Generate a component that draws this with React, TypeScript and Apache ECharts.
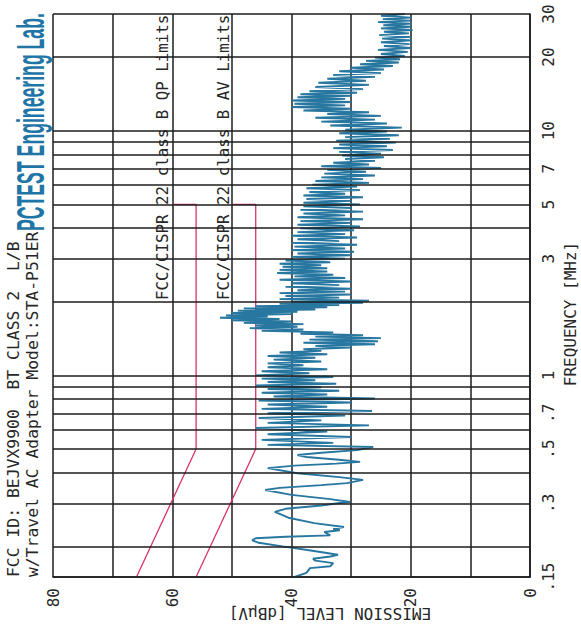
import React, { useEffect, useRef } from 'react';
import * as echarts from 'echarts';

// ---- axis definitions ----
const levelLabelValues = [0, 20, 40, 60, 80];
const freqGridLines = [0.15, 0.2, 0.3, 0.4, 0.5, 0.6, 0.7, 0.8, 0.9, 1, 2, 3, 4, 5, 6, 7, 8, 9, 10, 20, 30];
const freqTickValues = [0.15, 0.3, 0.5, 0.7, 1, 3, 5, 7, 10, 20, 30];
const freqTickLabels = ['.15', '.3', '.5', '.7', '1', '3', '5', '7', '10', '20', '30'];

// ---- limit lines (MHz, dBuV) ----
const qpLimitFreq = [0.15, 0.5, 5, 5];
const qpLimitLevel = [66, 56, 56, 60];
const avLimitFreq = [0.15, 0.5, 5, 5];
const avLimitLevel = [56, 46, 46, 50];

// ---- measured emission trace (MHz) ----
const traceFreq = [
  0.150, 0.156, 0.163, 0.166, 0.171, 0.175, 0.178, 0.182, 0.185, 0.192,
  0.200, 0.207, 0.212, 0.216, 0.219, 0.222, 0.229, 0.233, 0.236, 0.240,
  0.249, 0.262, 0.277, 0.285, 0.294, 0.301, 0.304, 0.312, 0.325, 0.340,
  0.347, 0.356, 0.363, 0.374, 0.384, 0.398, 0.418, 0.428, 0.436, 0.443,
  0.452, 0.464, 0.473, 0.483, 0.495, 0.510,
  0.52, 0.53, 0.545, 0.56, 0.575, 0.59, 0.61, 0.625, 0.64, 0.655,
  0.67, 0.685, 0.70, 0.715, 0.73, 0.745, 0.76, 0.775, 0.79, 0.805,
  0.82, 0.835, 0.85, 0.865, 0.88, 0.895, 0.91, 0.925, 0.94, 0.955,
  0.97, 0.985,
  1.00, 1.02, 1.04, 1.06, 1.08, 1.10, 1.12, 1.14, 1.16, 1.18,
  1.20, 1.22, 1.24, 1.26, 1.28, 1.30, 1.32, 1.34, 1.36, 1.38,
  1.40, 1.42, 1.44, 1.46, 1.48, 1.50, 1.52, 1.54, 1.56, 1.58,
  1.60, 1.62, 1.64, 1.66, 1.68, 1.70, 1.72, 1.74, 1.76, 1.78,
  1.80, 1.82, 1.84, 1.86, 1.88, 1.90, 1.92, 1.94, 1.96, 1.98,
  2.00, 2.02, 2.05, 2.08, 2.11, 2.14, 2.17, 2.20, 2.23, 2.26,
  2.30, 2.34, 2.38, 2.42, 2.46, 2.50, 2.54, 2.58, 2.62, 2.66,
  2.70, 2.74, 2.78, 2.82, 2.86, 2.90, 2.95,
  3.00, 3.05, 3.10, 3.15, 3.20, 3.25, 3.30, 3.36, 3.42, 3.48,
  3.54, 3.60, 3.66, 3.72, 3.78, 3.85, 3.92, 3.99,
  4.06, 4.13, 4.20, 4.27, 4.35, 4.43, 4.51, 4.59, 4.67, 4.75, 4.83, 4.91,
  5.00, 5.08, 5.17, 5.26, 5.35, 5.44, 5.53, 5.62, 5.72, 5.82, 5.92,
  6.02, 6.12, 6.23, 6.34, 6.45, 6.56, 6.68, 6.80, 6.92,
  7.04, 7.16, 7.28, 7.40, 7.53, 7.66, 7.79, 7.92,
  8.06, 8.20, 8.34, 8.49, 8.64, 8.79, 8.94,
  9.10, 9.26, 9.42, 9.59, 9.76, 9.93,
  10.1, 10.3, 10.5, 10.7, 10.9, 11.1, 11.3, 11.5, 11.7, 11.9,
  12.1, 12.3, 12.5, 12.7, 12.9, 13.1, 13.3, 13.5, 13.7, 13.9,
  14.1, 14.3, 14.5, 14.8, 15.1, 15.4, 15.7, 16.0, 16.3, 16.6,
  16.9, 17.2, 17.5, 17.8, 18.1, 18.4, 18.7, 19.0, 19.3, 19.6,
  19.9,
  20.2, 20.6, 21.0, 21.4, 21.8, 22.2, 22.6, 23.0, 23.4, 23.8,
  24.2, 24.6, 25.0, 25.4, 25.8, 26.2, 26.6, 27.0, 27.4, 27.8,
  28.2, 28.6, 29.0, 29.5, 30.0,
];

// ---- measured emission trace (dBuV) ----
const traceLevel = [
  39.5, 37.5, 36.9, 33.5, 33.0, 36.0, 36.4, 33.5, 32.2, 36.5,
  41.5, 45.5, 46.6, 46.0, 41.0, 33.5, 34.5, 31.9, 33.0, 31.2,
  36.2, 40.5, 42.8, 41.0, 35.0, 31.9, 30.2, 33.5, 40.0, 44.4,
  42.0, 35.0, 30.7, 28.0, 32.0, 39.0, 44.0, 39.5, 32.5, 28.5,
  32.0, 37.5, 39.0, 35.0, 29.0, 26.3,
  44, 33, 45, 30, 44, 34, 46, 27, 44, 35,
  45.5, 31, 44, 26.5, 45, 34, 44, 30, 45.5, 26,
  43, 34, 45, 32, 44, 35, 46, 32.5, 44, 36,
  45, 33,
  46, 37, 45, 34, 44, 38, 44, 35, 43, 36,
  44, 34, 42, 35, 38, 30, 36, 26, 38, 25.5,
  37, 25, 36, 28, 38.5, 33, 45, 38, 47, 39,
  46, 38, 48, 40, 50, 42, 52, 44, 51, 40,
  50, 39, 49, 36, 48, 34, 46, 32, 42, 28,
  40, 27, 42, 32, 41, 30, 42, 31, 39, 30,
  41, 32, 40, 30, 42, 31, 39.5, 33, 42.4, 34,
  42, 34, 41.5, 35, 42, 33.5, 41,
  31, 40, 30, 39, 29.5, 40, 31, 39.5, 29, 40,
  32, 39, 29, 40, 31, 39, 29.5, 38.5,
  28.5, 39, 30, 38.5, 28, 39, 31, 38, 28, 38.5, 30, 38,
  28.5, 38, 30, 37.5, 28, 38, 31, 37, 28.5, 37.5, 29,
  36.5, 27, 36, 28, 35, 26, 34.5, 27.5, 34,
  25, 35, 27, 33, 26, 31, 24.5, 31.5,
  25, 32, 23, 33, 24, 32, 22.5,
  32.5, 23.5, 31, 22, 32, 24,
  31, 21.5, 33.5, 24, 35, 26, 36, 25, 34, 27,
  38, 30, 40, 31, 39.5, 30, 40, 31, 39, 30,
  38.5, 29, 37, 28, 36, 27, 35.5, 27.5, 34, 26,
  33, 25, 32, 24.5, 30, 23, 28.5, 22, 27.5, 21.8,
  26,
  21, 25, 20.5, 25.5, 20, 24.5, 20.2, 25, 19.8, 24.8,
  20, 25.3, 20.3, 24.5, 19.7, 25, 20, 24.6, 19.8, 25.5,
  20.1, 24.7, 19.9, 25, 21,
];

const headerLine1 = 'FCC ID: BEJVX9900  BT CLASS 2  L/B';
const headerLine2 = 'w/Travel AC Adapter Model:STA-P51ER';
const labName = 'PCTEST Engineering Lab.';
const qpLabel = 'FCC/CISPR 22 class B QP Limits';
const avLabel = 'FCC/CISPR 22 class B AV Limits';
const freqTitle = 'FREQUENCY [MHz]';
const levelTitle = 'EMISSION LEVEL [dB\u03bcV]';

const MONO = '"DejaVu Sans Mono", "Liberation Mono", monospace';
const INK = '#262626';
const GRID = '#1c1c1c';
const RED = '#d8336c';
const TEAL = '#2877a0';

function pairs(levels: number[], freqs: number[]) {
  return freqs.map((f, i) => [levels[i], f]);
}

function rotText(text: string, x: number, y: number, rot: number, size: number, align: string, extra: any = {}) {
  return {
    type: 'text',
    x,
    y,
    rotation: rot,
    silent: true,
    ...extra.el,
    style: {
      text,
      fontFamily: MONO,
      fontSize: size,
      fill: INK,
      align,
      textAlign: align,
      verticalAlign: 'middle',
      textVerticalAlign: 'middle',
      ...extra.style,
    },
  };
}

export default function App() {
  const ref = useRef<HTMLDivElement>(null);

  useEffect(() => {
    if (!ref.current) return;
    const chart = echarts.init(ref.current, null, { renderer: 'svg' });

    chart.setOption({
      animation: false,
      backgroundColor: '#ffffff',
      grid: { left: 53, right: 51, top: 14, bottom: 52, containLabel: false },
      xAxis: {
        type: 'value',
        min: 0,
        max: 80,
        interval: 10,
        inverse: true,
        axisLine: { show: true, onZero: false, lineStyle: { color: GRID, width: 1.6 } },
        axisTick: { show: false },
        splitLine: { show: true, lineStyle: { color: GRID, width: 1.5 } },
        axisLabel: {
          rotate: 90,
          margin: 11,
          fontFamily: MONO,
          fontSize: 16,
          color: INK,
          formatter: (v: number) => (levelLabelValues.includes(v) ? String(v) : ''),
        },
      },
      yAxis: {
        type: 'log',
        logBase: 10,
        min: 0.15,
        max: 30,
        position: 'right',
        axisLine: { show: true, onZero: false, lineStyle: { color: GRID, width: 1.6 } },
        axisTick: { show: false },
        axisLabel: { show: false },
        splitLine: { show: false },
      },
      series: [
        {
          type: 'line',
          name: 'QP',
          data: pairs(qpLimitLevel, qpLimitFreq),
          symbol: 'none',
          lineStyle: { color: RED, width: 1.3 },
          z: 3,
          markLine: {
            silent: true,
            symbol: 'none',
            label: { show: false },
            lineStyle: { color: GRID, width: 1.5, type: 'solid' },
            data: freqGridLines.map((v) => ({ yAxis: v })),
          },
        },
        {
          type: 'line',
          name: 'AV',
          data: pairs(avLimitLevel, avLimitFreq),
          symbol: 'none',
          lineStyle: { color: RED, width: 1.3 },
          z: 3,
        },
        {
          type: 'line',
          name: 'Emission',
          data: pairs(traceLevel, traceFreq),
          symbol: 'none',
          lineStyle: { color: TEAL, width: 1.9 },
          z: 4,
        },
      ],
    });

    const yPix = (v: number) => chart.convertToPixel({ yAxisIndex: 0 }, v) as number;
    const up = Math.PI / 2;
    const graphics: any[] = [];
    freqTickValues.forEach((v, i) => {
      graphics.push(rotText(freqTickLabels[i], 548, yPix(v), up, 16, 'center'));
    });
    graphics.push(rotText(freqTitle, 570, 314, up, 16, 'center'));
    graphics.push(rotText(levelTitle, 330, 613, Math.PI, 16, 'center'));
    graphics.push(rotText(headerLine1, 13, 577, up, 16.4, 'left'));
    graphics.push(rotText(headerLine2, 32, 577, up, 16.4, 'left'));
    graphics.push(rotText(qpLabel, 162.5, 300, up, 15.8, 'left'));
    graphics.push(rotText(avLabel, 223, 300, up, 15.8, 'left'));
    graphics.push(
      rotText(labName, 31, 231, up, 38, 'left', {
        el: { scaleX: 0.465, scaleY: 1 },
        style: { fontFamily: '"Liberation Sans", Arial, sans-serif', fontWeight: 'bold', fill: '#1f76a6' },
      })
    );

    chart.setOption({ graphic: graphics });

    return () => {
      chart.dispose();
    };
  }, []);

  return (
    <div
      ref={ref}
      style={{ position: 'absolute', left: 0, top: 0, width: 581, height: 629, background: '#fff' }}
    />
  );
}
